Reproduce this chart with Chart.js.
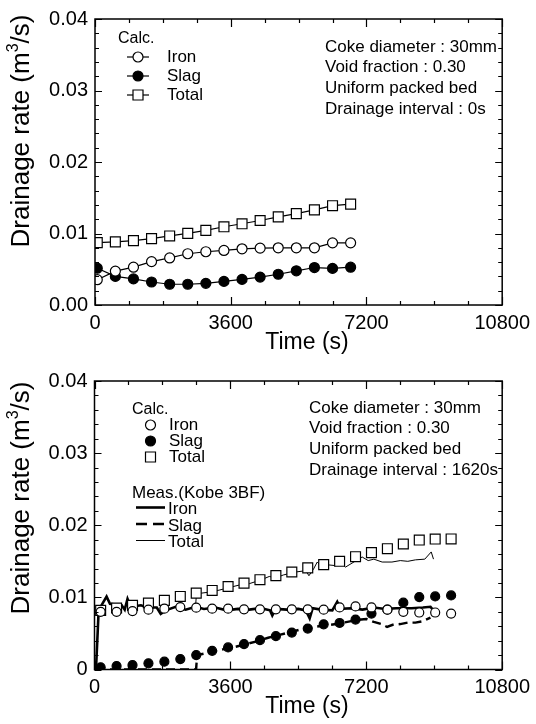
<!DOCTYPE html>
<html>
<head>
<meta charset="utf-8">
<script src="https://cdn.jsdelivr.net/npm/chart.js@4.4.1/dist/chart.umd.min.js"></script>
<style>
  html, body { margin: 0; padding: 0; background: #fff; }
  canvas { display: block; }
</style>
</head>
<body>
<canvas id="chartA" width="536" height="362"></canvas>
<canvas id="chartB" width="536" height="362"></canvas>
<script>
// Upper panel: drainage interval 0 s, calculated only
const calcTimeA = [60, 540, 1020, 1500, 1980, 2460, 2940, 3420, 3900, 4380, 4860, 5340, 5820, 6300, 6780];
const ironA  = [0.00354, 0.00474, 0.00529, 0.00607, 0.00658, 0.00717, 0.00745, 0.00763, 0.00786, 0.00795, 0.0080, 0.0080, 0.0080, 0.00869, 0.00869];
const slagA  = [0.00515, 0.0040, 0.00365, 0.00322, 0.0029, 0.0029, 0.00303, 0.0033, 0.00358, 0.0039, 0.0043, 0.00478, 0.00524, 0.00512, 0.00529];
const totalA = [0.00873, 0.00883, 0.00901, 0.00929, 0.00966, 0.01002, 0.01044, 0.01094, 0.01136, 0.01182, 0.01232, 0.01278, 0.0133, 0.01389, 0.01411];

// Lower panel: drainage interval 1620 s, calculated points
const calcTimeB = [163, 585, 1007, 1429, 1851, 2273, 2695, 3117, 3539, 3961, 4383, 4805, 5227, 5649, 6071, 6493, 6915, 7337, 7759, 8181, 8603, 9025, 9447];
const ironB  = [0.0080, 0.0080, 0.0081, 0.0083, 0.00843, 0.00866, 0.00857, 0.00843, 0.00843, 0.00834, 0.00834, 0.00834, 0.00834, 0.00834, 0.0083, 0.0086, 0.00875, 0.0086, 0.0083, 0.0080, 0.0079, 0.0079, 0.00775];
const slagB  = [0.0003, 0.00048, 0.00062, 0.00085, 0.00108, 0.00145, 0.0020, 0.00259, 0.00306, 0.00352, 0.00407, 0.00462, 0.00512, 0.00568, 0.00627, 0.00645, 0.00692, 0.00775, 0.0083, 0.00926, 0.01004, 0.01013, 0.01027];
const totalB = [0.0082, 0.00852, 0.00889, 0.00921, 0.00958, 0.01013, 0.01059, 0.01096, 0.01151, 0.01197, 0.01245, 0.01302, 0.01352, 0.01409, 0.01454, 0.0150, 0.01564, 0.0162, 0.01675, 0.0174, 0.01795, 0.01809, 0.0181];

// Lower panel: measured (Kobe 3BF)
const ironMeasT = [40, 110, 230, 320, 410, 560, 720, 800, 875, 960, 1230, 1400, 1650, 1754, 1886, 2150, 2413, 2677, 2900, 3200, 3500, 3800, 4100, 4400, 4650, 4710, 4800, 5100, 5400, 5600, 5700, 5780, 6000, 6300, 6430, 6520, 6800, 7100, 7400, 7700, 8000, 8400, 8700, 8900, 8960];
const ironMeasV = [0.0001, 0.0082, 0.0093, 0.0101, 0.0091, 0.0090, 0.0089, 0.0083, 0.0098, 0.0087, 0.0089, 0.0086, 0.0086, 0.0077, 0.0082, 0.0087, 0.0083, 0.0087, 0.0084, 0.0086, 0.0082, 0.0084, 0.0083, 0.0085, 0.0082, 0.0075, 0.0084, 0.0083, 0.0084, 0.0082, 0.0071, 0.0085, 0.0083, 0.0082, 0.0094, 0.0084, 0.0085, 0.0083, 0.0086, 0.0084, 0.0085, 0.0085, 0.0086, 0.0087, 0.0083];
const slagMeasT = [40, 2690, 2720, 2900, 3100, 3400, 3700, 4000, 4300, 4600, 4900, 5200, 5500, 5800, 6100, 6400, 6700, 7000, 7200, 7400, 7600, 7750, 7900, 8100, 8300, 8500, 8700, 8900];
const slagMeasV = [0, 0, 0.0020, 0.0022, 0.0025, 0.0028, 0.0031, 0.0035, 0.0039, 0.0044, 0.0048, 0.0052, 0.0056, 0.0059, 0.0061, 0.0063, 0.0066, 0.0069, 0.0070, 0.0066, 0.0063, 0.0059, 0.0062, 0.0063, 0.0065, 0.0065, 0.0067, 0.0072];
const totalMeasT = [40, 110, 230, 320, 410, 560, 720, 800, 875, 960, 1230, 1400, 1650, 1754, 1886, 2150, 2413, 2677, 2700, 3000, 3300, 3600, 3900, 4100, 4400, 4630, 4800, 5000, 5300, 5600, 5680, 5800, 5900, 6000, 6200, 6390, 6500, 6650, 6900, 7090, 7250, 7400, 7620, 7880, 8100, 8300, 8500, 8750, 8920, 8980];
const totalMeasV = [0.0001, 0.0082, 0.0093, 0.0101, 0.0091, 0.0090, 0.0089, 0.0083, 0.0098, 0.0087, 0.0089, 0.0086, 0.0086, 0.0077, 0.0082, 0.0087, 0.0083, 0.0087, 0.0105, 0.0107, 0.0110, 0.0114, 0.0118, 0.0119, 0.0124, 0.0129, 0.0127, 0.0131, 0.0135, 0.0137, 0.0130, 0.0139, 0.0149, 0.0143, 0.0145, 0.0144, 0.0148, 0.0142, 0.0150, 0.0156, 0.0151, 0.0153, 0.0149, 0.0149, 0.0151, 0.0150, 0.0152, 0.0153, 0.0163, 0.0153];

const xTicks = [0, 3600, 7200, 10800];
const notesA = ['Coke diameter : 30mm', 'Void fraction : 0.30', 'Uniform packed bed', 'Drainage interval : 0s'];
const notesB = ['Coke diameter : 30mm', 'Void fraction : 0.30', 'Uniform packed bed', 'Drainage interval : 1620s'];

const FONT = '"Liberation Sans", Arial, Helvetica, sans-serif';

function pts(xs, ys) {
  return xs.map((x, i) => ({ x: x, y: ys[i] }));
}

function drawMarker(ctx, kind, x, y) {
  ctx.lineWidth = 1.2;
  ctx.strokeStyle = '#000';
  ctx.beginPath();
  if (kind === 'square') {
    ctx.rect(x - 5, y - 5, 10, 10);
    ctx.fillStyle = '#fff';
  } else {
    ctx.arc(x, y, 5, 0, Math.PI * 2);
    ctx.fillStyle = kind === 'filled' ? '#000' : '#fff';
  }
  ctx.fill();
  ctx.stroke();
}

// frame, inward ticks, axis titles, legend and notes
const decoPlugin = {
  id: 'deco',
  afterDraw(chart, args, o) {
    const ctx = chart.ctx;
    const a = chart.chartArea;
    const xs = chart.scales.x, ys = chart.scales.y;
    ctx.save();
    ctx.strokeStyle = '#000';
    ctx.lineWidth = 1.5;
    ctx.strokeRect(a.left, a.top, a.right - a.left, a.bottom - a.top);

    ctx.lineWidth = 1.2;
    ctx.beginPath();
    for (let i = 0; i <= 12; i++) {
      const px = Math.round(xs.getPixelForValue(i * 900)) + 0.5;
      const len = i % 4 === 0 ? 8 : 4;
      ctx.moveTo(px, a.bottom); ctx.lineTo(px, a.bottom - len);
      ctx.moveTo(px, a.top); ctx.lineTo(px, a.top + len);
    }
    for (let i = 0; i <= 20; i++) {
      const py = Math.round(ys.getPixelForValue(i * 0.002)) + 0.5;
      const len = i % 5 === 0 ? 7 : 4;
      ctx.moveTo(a.left, py); ctx.lineTo(a.left + len, py);
      ctx.moveTo(a.right, py); ctx.lineTo(a.right - len, py);
    }
    ctx.stroke();

    ctx.fillStyle = '#000';
    ctx.textBaseline = 'middle';

    // y title with superscript
    ctx.save();
    ctx.translate(o.yTitle.x, o.yTitle.y);
    ctx.rotate(-Math.PI / 2);
    const big = '26px ' + FONT, sup = '16px ' + FONT;
    ctx.font = big;
    const w1 = ctx.measureText('Drainage rate (m').width;
    const w3 = ctx.measureText('/s)').width;
    ctx.font = sup;
    const w2 = ctx.measureText('3').width;
    let cx = -(w1 + w2 + w3) / 2;
    ctx.textAlign = 'left';
    ctx.font = big;
    ctx.fillText('Drainage rate (m', cx, 0);
    ctx.font = sup;
    ctx.fillText('3', cx + w1, -8);
    ctx.font = big;
    ctx.fillText('/s)', cx + w1 + w2, 0);
    ctx.restore();

    // x title
    ctx.font = '23px ' + FONT;
    ctx.textAlign = 'center';
    ctx.fillText('Time (s)', o.xTitle.x, a.bottom + o.xTitle.dy);

    // notes
    ctx.font = '17px ' + FONT;
    ctx.textAlign = 'left';
    o.notes.forEach((t, i) => ctx.fillText(t, o.notePos.x, o.notePos.y + i * o.notePos.step));

    // legend
    const L = o.legend;
    ctx.font = '16px ' + FONT;
    ctx.fillText('Calc.', L.x, L.calcY);
    ctx.font = '17px ' + FONT;
    const kinds = ['open', 'filled', 'square'];
    const names = ['Iron', 'Slag', 'Total'];
    kinds.forEach((k, i) => {
      const y = L.rowY + i * L.step;
      if (L.withLine) {
        ctx.lineWidth = 1.2;
        ctx.setLineDash([]);
        ctx.beginPath();
        ctx.moveTo(L.markX - 11, y); ctx.lineTo(L.markX + 11, y);
        ctx.stroke();
      }
      drawMarker(ctx, k, L.markX, y);
      ctx.fillStyle = '#000';
      ctx.fillText(names[i], L.textX, y);
    });
    if (L.meas) {
      ctx.fillText('Meas.(Kobe 3BF)', L.x, L.measY);
      const widths = [2.6, 2.4, 1];
      const dashes = [[], [11, 6], []];
      names.forEach((n, i) => {
        const y = L.measY + L.measStep * (i + 1) - 2;
        ctx.lineWidth = widths[i];
        ctx.setLineDash(dashes[i]);
        ctx.beginPath();
        ctx.moveTo(L.lineX0, y); ctx.lineTo(L.lineX1, y);
        ctx.stroke();
        ctx.setLineDash([]);
        ctx.fillText(n, L.lineX1 + 3, y + 2);
      });
    }
    ctx.restore();
  }
};

function makeChart(id, datasets, deco, zeroLabel, axisH, topPad) {
  return new Chart(document.getElementById(id), {
    type: 'scatter',
    data: { datasets: datasets },
    options: {
      responsive: false,
      animation: false,
      events: [],
      layout: { padding: { left: 0, right: 32, top: topPad, bottom: 0 } },
      plugins: { legend: { display: false }, tooltip: { enabled: false }, deco: deco },
      scales: {
        x: {
          type: 'linear', min: 0, max: 10800,
          afterBuildTicks: s => { s.ticks = xTicks.map(v => ({ value: v })); },
          afterFit: s => { s.height = axisH; },
          grid: { display: false, drawTicks: false },
          border: { display: false },
          ticks: { color: '#000', font: { family: FONT, size: 20 }, padding: 6, maxRotation: 0,
                   callback: v => String(v) }
        },
        y: {
          type: 'linear', min: 0, max: 0.04,
          afterFit: s => { s.width = deco.yAxisW; },
          grid: { display: false, drawTicks: false },
          border: { display: false },
          ticks: {
            stepSize: 0.01, color: '#000', padding: 7,
            font: { family: FONT, size: 20 },
            callback: v => (v === 0 && zeroLabel) ? zeroLabel : v.toFixed(2)
          }
        }
      }
    },
    plugins: [decoPlugin]
  });
}

const calcLine = { showLine: true, borderColor: '#000', borderWidth: 1.2, pointBorderColor: '#000', pointBorderWidth: 1.2, order: 0 };

makeChart('chartA', [
  Object.assign({ label: 'Iron', data: pts(calcTimeA, ironA), pointStyle: 'circle', pointRadius: 5, pointBackgroundColor: '#fff' }, calcLine),
  Object.assign({ label: 'Slag', data: pts(calcTimeA, slagA), pointStyle: 'circle', pointRadius: 5, pointBackgroundColor: '#000' }, calcLine),
  Object.assign({ label: 'Total', data: pts(calcTimeA, totalA), pointStyle: 'rect', pointRadius: 7, pointBackgroundColor: '#fff' }, calcLine)
], {
  yAxisW: 95,
  yTitle: { x: 22, y: 131 },
  xTitle: { x: 307, dy: 38 },
  notes: notesA,
  notePos: { x: 325, y: 47, step: 20.7 },
  legend: { x: 118, calcY: 39, rowY: 57, step: 19, markX: 138, textX: 167, withLine: true, meas: false }
}, null, 57, 15);

const calcPts = { showLine: false, pointBorderColor: '#000', pointBorderWidth: 1.2, order: 0 };
const measLine = { showLine: true, pointRadius: 0, borderColor: '#000', order: 1 };

makeChart('chartB', [
  Object.assign({ label: 'Iron', data: pts(calcTimeB, ironB), pointStyle: 'circle', pointRadius: 4.5, pointBackgroundColor: '#fff' }, calcPts),
  Object.assign({ label: 'Slag', data: pts(calcTimeB, slagB), pointStyle: 'circle', pointRadius: 4.5, pointBackgroundColor: '#000' }, calcPts),
  Object.assign({ label: 'Total', data: pts(calcTimeB, totalB), pointStyle: 'rect', pointRadius: 7, pointBackgroundColor: '#fff' }, calcPts),
  Object.assign({ label: 'Meas. Iron', data: pts(ironMeasT, ironMeasV), borderWidth: 2.6 }, measLine),
  Object.assign({ label: 'Meas. Slag', data: pts(slagMeasT, slagMeasV), borderWidth: 2.4, borderDash: [9, 5] }, measLine),
  Object.assign({ label: 'Meas. Total', data: pts(totalMeasT, totalMeasV), borderWidth: 1 }, measLine)
], {
  yAxisW: 94.5,
  yTitle: { x: 22, y: 136 },
  xTitle: { x: 307, dy: 37 },
  notes: notesB,
  notePos: { x: 309, y: 46, step: 20.8 },
  legend: { x: 132, calcY: 48, rowY: 63, step: 16, markX: 150.5, textX: 169, withLine: false, meas: true,
            measY: 131, measStep: 16.5, lineX0: 136, lineX1: 165 }
}, '0', 54.5, 17);
</script>
</body>
</html>
